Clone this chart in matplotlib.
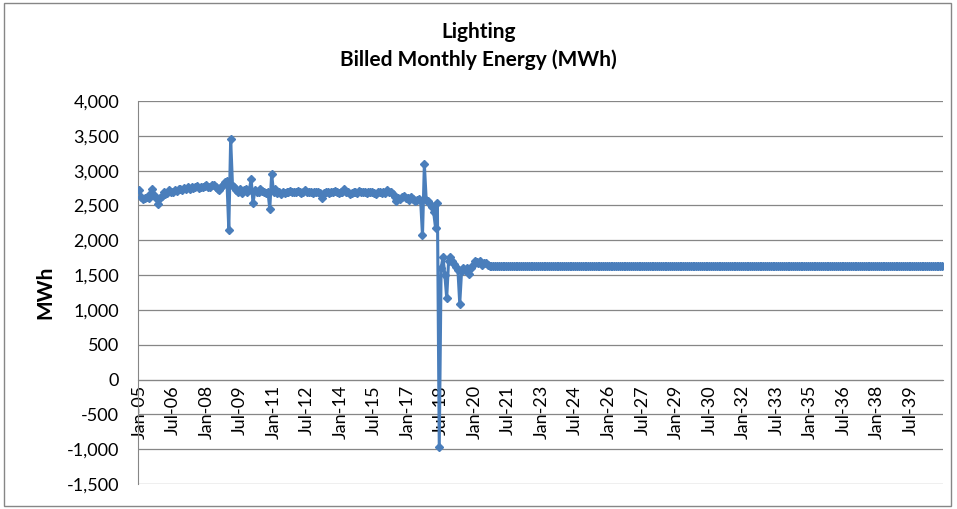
import matplotlib.pyplot as plt
from matplotlib.patches import Rectangle

# monthly billed energy, Jan-05 .. Aug-20 (MWh)
history = [
    2720, 2620, 2590, 2600, 2620, 2600, 2680, 2730, 2650, 2600, 2520, 2600,  # 2005
    2640, 2700, 2660, 2680, 2720, 2700, 2690, 2720, 2710, 2730, 2740, 2720,  # 2006
    2750, 2740, 2760, 2730, 2770, 2750, 2760, 2780, 2750, 2770, 2760, 2780,  # 2007
    2790, 2770, 2760, 2790, 2800, 2760, 2740, 2720, 2760, 2790, 2830, 2850,  # 2008
    2150, 3450, 2780, 2760, 2720, 2700, 2740, 2680, 2720, 2740, 2700, 2720,  # 2009
    2880, 2530, 2720, 2700, 2690, 2730, 2710, 2700, 2680, 2700, 2450, 2950,  # 2010
    2700, 2740, 2680, 2700, 2660, 2690, 2680, 2700, 2690, 2710, 2700, 2690,  # 2011
    2700, 2710, 2690, 2680, 2700, 2720, 2700, 2690, 2700, 2680, 2690, 2700,  # 2012
    2700, 2680, 2600, 2680, 2690, 2700, 2680, 2690, 2700, 2710, 2690, 2680,  # 2013
    2700, 2690, 2730, 2700, 2700, 2660, 2680, 2700, 2690, 2680, 2710, 2700,  # 2014
    2690, 2700, 2680, 2690, 2700, 2690, 2680, 2670, 2690, 2700, 2680, 2690,  # 2015
    2680, 2720, 2700, 2690, 2660, 2620, 2560, 2600, 2590, 2620, 2640, 2610,  # 2016
    2600, 2580, 2620, 2590, 2560, 2580, 2590, 2570, 2070, 3090, 2580, 2560,  # 2017
    2520, 2480, 2400, 2180, 2540, -970, 1600, 1760, 1500, 1170, 1700, 1760,  # 2018
    1700, 1660, 1620, 1580, 1090, 1560, 1600, 1580, 1600, 1520, 1600, 1650,  # 2019
    1700, 1690, 1680, 1700, 1650, 1670, 1680, 1640,                          # 2020
]
# flat forecast, Sep-20 .. Dec-40
forecast_level = 1630
n_forecast = 244

values = history + [forecast_level] * n_forecast
months = list(range(len(values)))

tick_labels = ["Jan-05", "Jul-06", "Jan-08", "Jul-09", "Jan-11", "Jul-12",
               "Jan-14", "Jul-15", "Jan-17", "Jul-18", "Jan-20", "Jul-21",
               "Jan-23", "Jul-24", "Jan-26", "Jul-27", "Jan-29", "Jul-30",
               "Jan-32", "Jul-33", "Jan-35", "Jul-36", "Jan-38", "Jul-39"]
tick_pos = [i * 18 for i in range(len(tick_labels))]

plt.rcParams["font.family"] = ["Lato", "DejaVu Sans"]
grid_col = "#868686"
line_col = "#4A7EBB"

fig = plt.figure(figsize=(9.57, 5.09), dpi=100)
ax = fig.add_axes([0.1447, 0.0491, 0.8407, 0.7525])

ax.plot(months, values, color=line_col, lw=2.2, marker="D", ms=4.5,
        mec=line_col, mfc=line_col, zorder=3)

ax.set_xlim(-0.5, len(values) - 0.5)
ax.set_ylim(-1500, 4000)
ax.set_yticks(range(-1500, 4001, 500))
ax.set_yticklabels([f"{v:,}" for v in range(-1500, 4001, 500)])
ax.yaxis.grid(True, color=grid_col, lw=0.9)
ax.set_axisbelow(True)

ax.set_xticks(tick_pos)
ax.set_xticklabels(tick_labels)
ax.tick_params(axis="both", length=0, colors="black", labelsize=13)
ax.tick_params(axis="x", pad=4, labelrotation=90)
ax.tick_params(axis="y", pad=14)

ax.spines["bottom"].set_position(("data", 0))
ax.spines["bottom"].set_color(grid_col)
ax.spines["left"].set_color(grid_col)
ax.spines["top"].set_visible(False)
ax.spines["right"].set_visible(False)

ax.set_ylabel("MWh", fontsize=15, fontweight="bold", labelpad=8)

fig.text(0.5, 0.938, "Lighting", ha="center", va="center",
         fontsize=15, fontweight="bold")
fig.text(0.5, 0.882, "Billed Monthly Energy (MWh)", ha="center", va="center",
         fontsize=15, fontweight="bold")

fig.patches.append(Rectangle((0.004, 0.006), 0.99, 0.988, transform=fig.transFigure,
                             fill=False, ec="#868686", lw=1))

fig.savefig("out.png", dpi=100)
